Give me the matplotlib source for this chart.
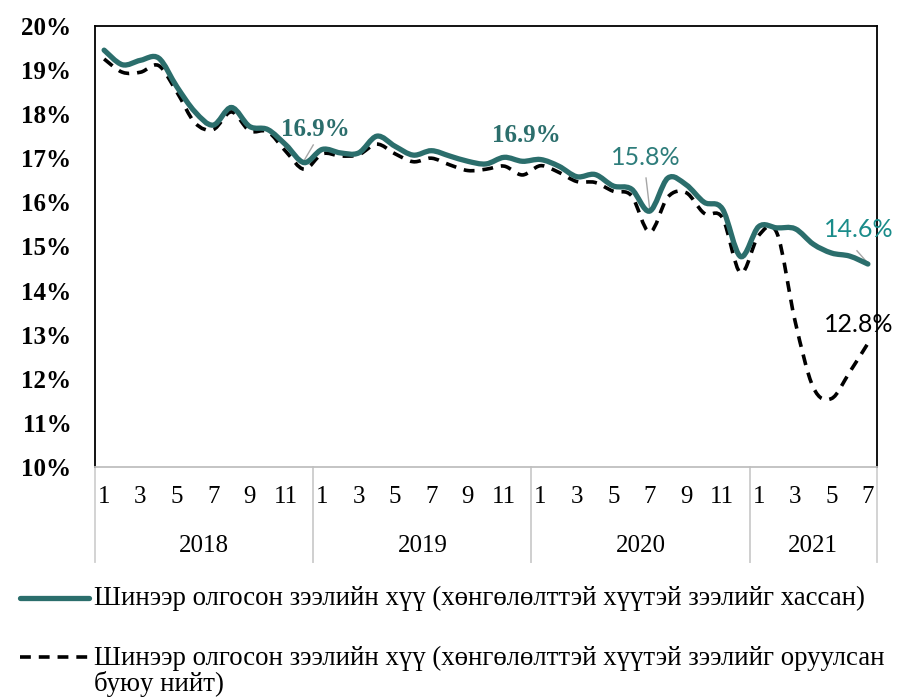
import numpy as np
import matplotlib.pyplot as plt
from matplotlib.path import Path
from matplotlib.patches import PathPatch
from matplotlib.lines import Line2D
from matplotlib import transforms

years = ['2018', '2019', '2020', '2021']
months_per_year = [12, 12, 12, 7]

# new loans rate excluding subsidised loans
rate_excl = [19.45, 19.12, 19.22, 19.27, 18.62, 18.05, 17.75, 18.15, 17.72, 17.65, 17.3, 16.9,
             17.2, 17.12, 17.12, 17.5, 17.27, 17.07, 17.17, 17.05, 16.93, 16.87, 17.02, 16.93,
             16.97, 16.82, 16.58, 16.63, 16.37, 16.3, 15.8, 16.55, 16.4, 16.0, 15.85, 14.77,
             15.45, 15.42, 15.4, 15.05, 14.85, 14.78, 14.6]
# new loans rate including subsidised loans (total)
rate_total = [19.25, 18.95, 18.95, 19.1, 18.5, 17.8, 17.65, 18.05, 17.62, 17.6, 17.15, 16.75,
              17.1, 17.05, 17.08, 17.32, 17.1, 16.92, 17.0, 16.85, 16.72, 16.75, 16.82, 16.62,
              16.83, 16.68, 16.47, 16.45, 16.25, 16.15, 15.32, 16.12, 16.22, 15.75, 15.65, 14.4,
              15.25, 15.3, 13.3, 11.8, 11.55, 12.15, 12.8]

label_excl = 'Шинээр олгосон зээлийн хүү (хөнгөлөлттэй хүүтэй зээлийг хассан)'
label_total = 'Шинээр олгосон зээлийн хүү (хөнгөлөлттэй хүүтэй зээлийг оруулсан\nбуюу нийт)'

TEAL = '#2B6E6C'
SERIF = 'Liberation Serif'
SANS = 'Lato'


def smooth_path(x, y):
    # catmull-rom style bezier, similar to a smoothed spreadsheet line
    pts = np.column_stack([x, y]).astype(float)
    ext = np.vstack([pts[0], pts, pts[-1]])
    verts = [pts[0]]
    codes = [Path.MOVETO]
    for i in range(len(pts) - 1):
        p0, p1, p2, p3 = ext[i], ext[i + 1], ext[i + 2], ext[i + 3]
        verts += [p1 + (p2 - p0) / 6, p2 - (p3 - p1) / 6, p2]
        codes += [Path.CURVE4] * 3
    return Path(verts, codes)


fig = plt.figure(figsize=(8.99, 7.0), dpi=100)
ax = fig.add_axes([0.1057, 0.333, 0.8698, 0.630])

x = np.arange(len(rate_excl))
ax.add_patch(PathPatch(smooth_path(x, rate_total), fill=False, color='black',
                       lw=2.6, linestyle=(0, (3, 2.2)), capstyle='butt', zorder=3))
ax.add_patch(PathPatch(smooth_path(x, rate_excl), fill=False, color=TEAL,
                       lw=3.8, capstyle='round', zorder=4))

ax.set_xlim(-0.5, len(x) - 0.5)
ax.set_ylim(10, 20)
ax.set_yticks(np.arange(10, 21, 1))
ax.set_yticklabels([f'{v}%' for v in range(10, 21)], fontfamily=SERIF,
                   fontweight='bold', fontsize=18)

month_nums = [m for n in months_per_year for m in range(1, n + 1)]
ax.set_xticks(x)
ax.set_xticklabels([str(m) if m % 2 == 1 else '' for m in month_nums],
                   fontfamily=SERIF, fontsize=18)
ax.tick_params(axis='both', length=0)
ax.tick_params(axis='x', pad=14)
ax.tick_params(axis='y', pad=17)

for side in ['top', 'left', 'right']:
    ax.spines[side].set_color('black')
    ax.spines[side].set_linewidth(1.3)
ax.spines['bottom'].set_color('#BFBFBF')
ax.spines['bottom'].set_linewidth(1.3)

# year group separators and labels
trans = transforms.blended_transform_factory(ax.transData, ax.transAxes)
start = -0.5
for yr, n in zip(years, months_per_year):
    for bx in (start, start + n):
        ax.add_line(Line2D([bx, bx], [0, -0.215], transform=trans, color='#D0D0D0',
                           lw=1.3, clip_on=False))
    ax.text(start + n / 2, -0.18, yr, transform=trans, ha='center', va='center',
            fontfamily=SERIF, fontsize=18)
    start += n

# data labels
ax.text(11.6, 17.66, '16.9%', ha='center', va='center', color=TEAL,
        fontfamily=SERIF, fontweight='bold', fontsize=18)
ax.plot([11.0, 11.5], [16.95, 17.3], color='#A6A6A6', lw=1)
ax.text(23.2, 17.52, '16.9%', ha='center', va='center', color=TEAL,
        fontfamily=SERIF, fontweight='bold', fontsize=18)
ax.text(29.8, 17.02, '15.8%', ha='center', va='center', color='#2E7D7B',
        fontfamily=SANS, fontsize=18)
ax.plot([29.8, 30.0], [16.55, 15.85], color='#A6A6A6', lw=1)
ax.text(41.5, 15.39, '14.6%', ha='center', va='center', color='#1A8C8A',
        fontfamily=SANS, fontsize=18)
ax.plot([41.4, 42.0], [14.9, 14.62], color='#A6A6A6', lw=1)
ax.text(41.5, 13.23, '12.8%', ha='center', va='center', color='black',
        fontfamily=SANS, fontsize=18)

# legend below the chart
fig.add_artist(Line2D([0.022, 0.099], [1 - 598 / 700] * 2, color=TEAL, lw=3.8,
                      solid_capstyle='round', transform=fig.transFigure))
fig.add_artist(Line2D([0.022, 0.099], [1 - 657 / 700] * 2, color='black', lw=2.6,
                      linestyle=(0, (3, 2.2)), transform=fig.transFigure))
fig.text(0.105, 1 - 598 / 700, label_excl, ha='left', va='center',
         fontfamily=SERIF, fontsize=19.3)
fig.text(0.105, 1 - 671 / 700, label_total, ha='left', va='center',
         fontfamily=SERIF, fontsize=19.3, linespacing=1.0)

fig.savefig('out.png', dpi=100)
